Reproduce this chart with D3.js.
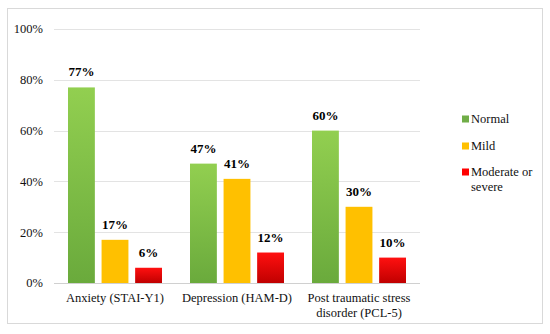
<!DOCTYPE html>
<html>
<head>
<meta charset="utf-8">
<script src="https://cdn.jsdelivr.net/npm/d3@7"></script>
<style>
  body { margin: 0; background: #fff; }
</style>
</head>
<body>
<div id="chart"></div>
<script>
const categories = ['Anxiety (STAI-Y1)', 'Depression (HAM-D)', 'Post traumatic stress disorder (PCL-5)'];
const seriesNames = ['Normal', 'Mild', 'Moderate or severe'];
const normalValues = [77, 47, 60];
const mildValues = [17, 41, 30];
const severeValues = [6, 12, 10];
const yTicks = [0, 20, 40, 60, 80, 100];

const WIDTH = 550;
const HEIGHT = 334;
const FONT = "'Liberation Serif', 'Times New Roman', serif";
const margin = { top: 29, right: 130, bottom: 51, left: 54 };

const series = [normalValues, mildValues, severeValues];

const svg = d3.select('#chart')
  .append('svg')
  .attr('width', WIDTH)
  .attr('height', HEIGHT)
  .style('font-family', FONT);

const defs = svg.append('defs');
const gradients = [
  { id: 'g-normal', top: '#92cf50', bottom: '#6aaa3c' },
  { id: 'g-mild', top: '#ffc000', bottom: '#ffc000' },
  { id: 'g-severe', top: '#ff1010', bottom: '#c00000' },
];
gradients.forEach((g) => {
  const lg = defs.append('linearGradient')
    .attr('id', g.id)
    .attr('x1', 0).attr('y1', 0).attr('x2', 0).attr('y2', 1);
  lg.append('stop').attr('offset', '0%').attr('stop-color', g.top);
  lg.append('stop').attr('offset', '100%').attr('stop-color', g.bottom);
});
const legendColors = ['#70ad47', '#ffc000', '#ff0000'];

// outer border
svg.append('rect')
  .attr('x', 7.5).attr('y', 8.5)
  .attr('width', 535).attr('height', 315)
  .attr('fill', 'none')
  .attr('stroke', '#d9d9d9');

const x0 = d3.scaleBand()
  .domain(categories)
  .range([margin.left, WIDTH - margin.right])
  .paddingInner(0)
  .paddingOuter(0);

const x1 = d3.scaleBand()
  .domain(d3.range(series.length))
  .range([14, x0.bandwidth() - 14])
  .paddingInner(0.2);

const y = d3.scaleLinear()
  .domain([0, 100])
  .range([HEIGHT - margin.bottom, margin.top]);

// grid lines
svg.append('g')
  .selectAll('line')
  .data(yTicks)
  .enter()
  .append('line')
  .attr('x1', margin.left)
  .attr('x2', WIDTH - margin.right)
  .attr('y1', (d) => Math.round(y(d)) + 0.5)
  .attr('y2', (d) => Math.round(y(d)) + 0.5)
  .attr('stroke', (d) => (d === 0 ? '#d0d0d0' : '#e3e3e3'))
  .attr('stroke-width', 1);

// y tick labels
svg.append('g')
  .selectAll('text')
  .data(yTicks)
  .enter()
  .append('text')
  .attr('x', 43)
  .attr('y', (d) => y(d))
  .attr('dy', '0.35em')
  .attr('text-anchor', 'end')
  .style('font-family', FONT)
  .style('font-size', '12.5px')
  .attr('fill', '#111')
  .text((d) => d + '%');

// bars
const groups = svg.append('g')
  .selectAll('g')
  .data(categories)
  .enter()
  .append('g')
  .attr('transform', (d) => `translate(${x0(d)},0)`);

groups.selectAll('rect')
  .data((d, i) => series.map((s, j) => ({ j, value: s[i] })))
  .enter()
  .append('rect')
  .attr('x', (d) => x1(d.j))
  .attr('y', (d) => y(d.value))
  .attr('width', x1.bandwidth())
  .attr('height', (d) => y(0) - y(d.value))
  .attr('fill', (d) => `url(#${gradients[d.j].id})`);

groups.selectAll('text.value')
  .data((d, i) => series.map((s, j) => ({ j, value: s[i] })))
  .enter()
  .append('text')
  .attr('class', 'value')
  .attr('x', (d) => x1(d.j) + x1.bandwidth() / 2)
  .attr('y', (d) => y(d.value) - 11)
  .attr('text-anchor', 'middle')
  .style('font-family', FONT)
  .style('font-size', '13px')
  .style('font-weight', 'bold')
  .attr('fill', '#000')
  .text((d) => d.value + '%');

// category labels
const catLines = [['Anxiety (STAI-Y1)'], ['Depression (HAM-D)'], ['Post traumatic stress', 'disorder (PCL-5)']];
svg.append('g')
  .selectAll('text')
  .data(categories)
  .enter()
  .append('text')
  .attr('x', (d) => x0(d) + x0.bandwidth() / 2)
  .attr('y', 302)
  .attr('text-anchor', 'middle')
  .style('font-family', FONT)
  .style('font-size', '12.5px')
  .attr('fill', '#111')
  .each(function (d, i) {
    d3.select(this)
      .selectAll('tspan')
      .data(catLines[i])
      .enter()
      .append('tspan')
      .attr('x', x0(d) + x0.bandwidth() / 2)
      .attr('dy', (t, k) => (k === 0 ? 0 : 15))
      .text((t) => t);
  });

// legend
const legendLines = [['Normal'], ['Mild'], ['Moderate or', 'severe']];
const legendY = [119, 146, 172];
const legend = svg.append('g')
  .selectAll('g')
  .data(seriesNames)
  .enter()
  .append('g')
  .attr('transform', (d, i) => `translate(462,${legendY[i]})`);

legend.append('rect')
  .attr('x', 0)
  .attr('y', -3.5)
  .attr('width', 7)
  .attr('height', 7)
  .attr('fill', (d, i) => legendColors[i]);

legend.append('text')
  .attr('x', 9)
  .attr('y', 0)
  .style('font-family', FONT)
  .style('font-size', '12.5px')
  .attr('fill', '#111')
  .each(function (d, i) {
    d3.select(this)
      .selectAll('tspan')
      .data(legendLines[i])
      .enter()
      .append('tspan')
      .attr('x', 9)
      .attr('dy', (t, k) => (k === 0 ? '0.35em' : 15))
      .text((t) => t);
  });
</script>
</body>
</html>
